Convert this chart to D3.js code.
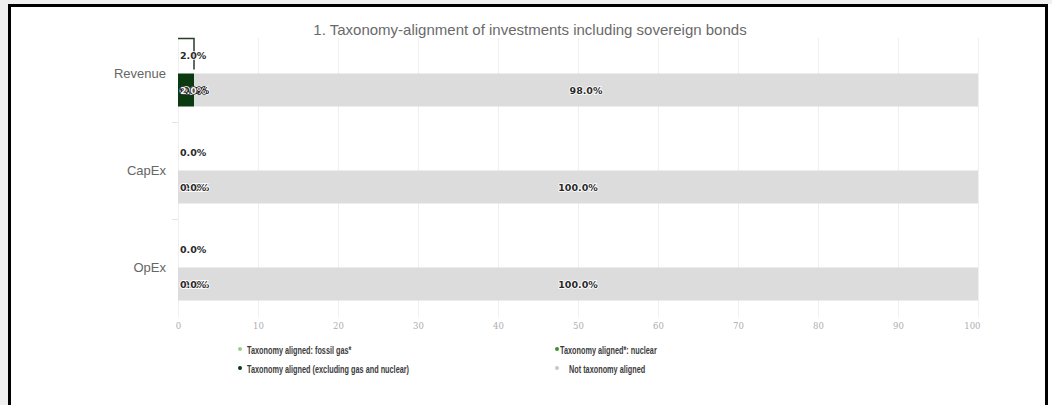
<!DOCTYPE html>
<html>
<head>
<meta charset="utf-8">
<script src="https://cdn.jsdelivr.net/npm/d3@7"></script>
<style>
  html, body { margin: 0; padding: 0; background: #f0f0f0; }
  svg { display: block; }
</style>
</head>
<body>
<svg id="chart" width="1052" height="405"></svg>
<script>
// Categories and series values (percent of investments)
const categories = ["Revenue", "CapEx", "OpEx"];
const totalAligned = [2.0, 0.0, 0.0];            // upper row per category
const fossilGas = [0.0, 0.0, 0.0];
const nuclear = [0.0, 0.0, 0.0];
const alignedExclGasNuclear = [2.0, 0.0, 0.0];
const notAligned = [98.0, 100.0, 100.0];
const xTickValues = [0, 10, 20, 30, 40, 50, 60, 70, 80, 90, 100];
const titleText = "1. Taxonomy-alignment of investments including sovereign bonds";
const legendNames = [
  "Taxonomy aligned: fossil gas*",
  "Taxonomy aligned*: nuclear",
  "Taxonomy aligned (excluding gas and nuclear)",
  "Not taxonomy aligned"
];

const colors = {
  gas: "#9ccf86",
  nuclear: "#3f8f2f",
  excl: "#0b3a10",
  not: "#dcdcdc",
  notBullet: "#c8c8c8"
};

const svg = d3.select("#chart");
const W = 1052, H = 405;

// page frame
svg.append("rect").attr("x", 8).attr("y", 4).attr("width", W - 8).attr("height", H - 4).attr("fill", "#ffffff");
svg.append("path")
  .attr("d", `M9.5,${H} V5.5 H1046.5 V${H}`)
  .attr("fill", "none").attr("stroke", "#000").attr("stroke-width", 3);

// scales
const x = d3.scaleLinear().domain([0, 100]).range([178, 978]);
const y = d3.scaleBand().domain(categories).range([25, 316]);
const row = d3.scaleBand().domain(["total", "breakdown"]).range([13.5, 81.5]).paddingInner(2 / 35);
const plotTop = 38, plotBottom = 312;

// vertical gridlines
svg.append("g")
  .attr("transform", `translate(0,${plotBottom})`)
  .call(d3.axisBottom(x).tickValues(xTickValues).tickSize(-(plotBottom - plotTop)).tickFormat(""))
  .call(g => g.select(".domain").remove())
  .call(g => g.selectAll("line").attr("stroke", "#efefef").attr("stroke-width", 1));

// x axis tick labels (last one justified inside the plot edge)
svg.append("g")
  .attr("transform", `translate(0,${plotBottom})`)
  .call(d3.axisBottom(x).tickValues(xTickValues).tickSize(5).tickPadding(6))
  .call(g => g.select(".domain").remove())
  .call(g => g.selectAll("line").attr("stroke", "#f0f0f0"))
  .call(g => g.selectAll("text")
    .attr("fill", "#adadad")
    .attr("font-family", "DejaVu Serif, serif")
    .attr("font-size", 8.5))
  .call(g => g.selectAll(".tick").filter(d => d === 100).select("text")
    .attr("text-anchor", "end").attr("x", 2));

// y axis category labels
svg.append("g")
  .attr("transform", `translate(${x(0)},0)`)
  .call(d3.axisLeft(y).tickSize(0).tickPadding(12))
  .call(g => g.select(".domain").remove())
  .call(g => g.selectAll("text")
    .attr("fill", "#666")
    .attr("font-family", "Liberation Sans, Arial, sans-serif")
    .attr("font-size", 13)
    .attr("dy", "0.32em"));

// small separators between categories
svg.append("g").selectAll("line")
  .data(categories.slice(1))
  .join("line")
  .attr("x1", x(0) - 6).attr("x2", x(0))
  .attr("y1", d => y(d) + 0.5).attr("y2", d => y(d) + 0.5)
  .attr("stroke", "#e4e4e4");

// stacked breakdown row
const stackKeys = ["gas", "nuclear", "excl", "not"];
const stackData = categories.map((c, i) => ({
  cat: c, gas: fossilGas[i], nuclear: nuclear[i], excl: alignedExclGasNuclear[i], not: notAligned[i]
}));
const stacked = d3.stack().keys(stackKeys)(stackData);

const barG = svg.append("g");
stacked.forEach(layer => {
  barG.append("g").selectAll("rect")
    .data(layer.filter(d => d[1] > d[0]))
    .join("rect")
    .attr("x", d => x(d[0]))
    .attr("width", d => x(d[1]) - x(d[0]))
    .attr("y", d => y(d.data.cat) + row("breakdown"))
    .attr("height", row.bandwidth())
    .attr("fill", colors[layer.key]);
});

// upper row: total aligned share, drawn as an open outline
svg.append("g").selectAll("path")
  .data(categories.map((c, i) => ({ cat: c, v: totalAligned[i] })).filter(d => d.v > 0))
  .join("path")
  .attr("d", d => {
    const y0 = y(d.cat) + row("total"), y1 = y0 + row.bandwidth() - 2;
    return `M${x(0)},${y0} H${x(d.v)} V${y1}`;
  })
  .attr("fill", "none")
  .attr("stroke", "#2b3b2b")
  .attr("stroke-width", 1.5);

// data labels
const fmt = v => v.toFixed(1) + "%";
const labelFont = "DejaVu Sans, Verdana, sans-serif";
function drawLabel(g, tx, ty, text, anchor, dark) {
  g.append("text")
    .attr("x", tx).attr("y", ty)
    .attr("text-anchor", anchor)
    .attr("dominant-baseline", "central")
    .attr("font-family", labelFont)
    .attr("font-size", 9.5)
    .attr("font-weight", "bold")
    .attr("paint-order", "stroke")
    .attr("stroke", dark ? "#1a1a1a" : "#ffffff")
    .attr("stroke-width", 1.6)
    .attr("fill", dark ? "#f4f4f4" : "#2a2a2a")
    .text(text);
}
const labelG = svg.append("g");

// upper row labels
categories.forEach((c, i) => {
  drawLabel(labelG, x(0) + 2, y(c) + row("total") + row.bandwidth() / 2, fmt(totalAligned[i]), "start", false);
});

// breakdown labels: centered when they fit, otherwise stacked up at the segment start
stacked.forEach(layer => {
  layer.forEach(d => {
    const v = d[1] - d[0];
    const cy = y(d.data.cat) + row("breakdown") + row.bandwidth() / 2;
    const w = x(d[1]) - x(d[0]);
    if (w > 40) {
      drawLabel(labelG, (x(d[0]) + x(d[1])) / 2, cy, fmt(v), "middle", false);
    } else {
      const shift = layer.key === "nuclear" ? 3 : 0;
      drawLabel(labelG, x(d[0]) + 2 + shift, cy, fmt(v), "start", layer.key === "excl" && v > 0);
    }
  });
});

// title
svg.append("text")
  .attr("x", 530).attr("y", 35)
  .attr("text-anchor", "middle")
  .attr("font-family", "Liberation Sans, Arial, sans-serif")
  .attr("font-size", 15)
  .attr("fill", "#6a6a6a")
  .text(titleText);

// legend (narrow bold lettering)
const legendItems = [
  { name: legendNames[0], color: colors.gas, bx: 240, tx: 247, ty: 354 },
  { name: legendNames[1], color: colors.nuclear, bx: 557, tx: 560, ty: 354 },
  { name: legendNames[2], color: colors.excl, bx: 240, tx: 247, ty: 373 },
  { name: legendNames[3], color: colors.notBullet, bx: 557, tx: 569, ty: 373 }
];
const lg = svg.append("g");
legendItems.forEach(it => {
  lg.append("circle").attr("cx", it.bx).attr("cy", it.ty - 5).attr("r", 2).attr("fill", it.color);
  lg.append("text")
    .attr("transform", `translate(${it.tx},${it.ty}) scale(0.73,1)`)
    .attr("font-family", "Liberation Sans, Arial, sans-serif")
    .attr("font-size", 10)
    .attr("font-weight", "bold")
    .attr("fill", "#3c3c3c")
    .text(it.name);
});
</script>
</body>
</html>
